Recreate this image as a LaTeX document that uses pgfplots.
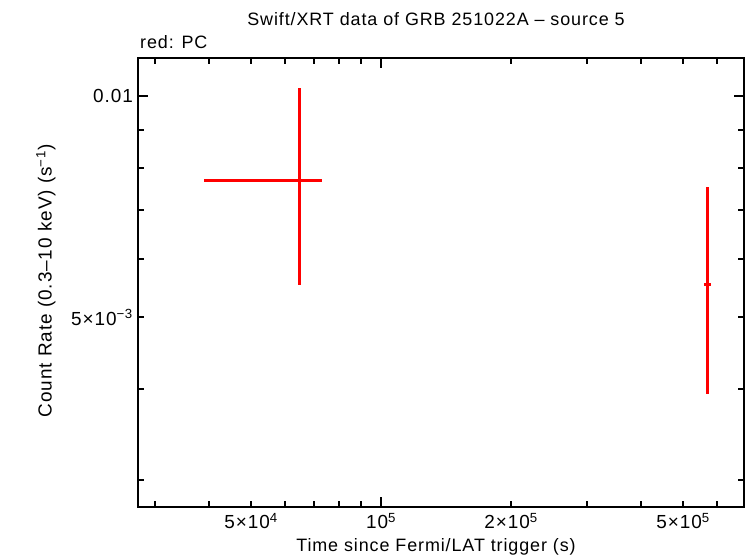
\documentclass[border=0pt]{standalone}
\usepackage{fontspec}
\setmainfont{Liberation Sans}[LetterSpace=5]
\usepackage{pgfplots}
\pgfplotsset{compat=1.18}
\begin{document}
\fontsize{18}{21}\selectfont
\begin{tikzpicture}[x=1bp,y=1bp]
\path[use as bounding box] (0,0) rectangle (746,558);
\begin{axis}[
  at={(138bp,51bp)}, anchor=south west,
  scale only axis, width=606bp, height=449bp,
  xmode=log, ymode=log,
  xmin=27380, xmax=692000,
  ymin=0.00276, ymax=0.01128,
  axis line style={line width=2.7bp},
  tick align=inside,
  every tick/.style={line width=2bp, black},
  major tick length=10bp, minor tick length=6bp,
  xtick={1e5}, xticklabels={10\textsuperscript{5}},
  minor xtick={3e4,4e4,6e4,7e4,8e4,9e4,3e5,4e5,6e5},
  extra x ticks={5e4,2e5,5e5},
  extra x tick labels={5×10\textsuperscript{4},2×10\textsuperscript{5},5×10\textsuperscript{5}},
  extra x tick style={major tick length=6bp},
  ytick={0.01}, yticklabels={0.01},
  minor ytick={0.003,0.004,0.006,0.007,0.008,0.009},
  extra y ticks={0.005},
  extra y tick labels={5×10\textsuperscript{−3}},
  extra y tick style={major tick length=6bp},
  xticklabel style={yshift=0bp},
  yticklabel style={xshift=1bp},
  tick label style={font=\fontsize{19}{22}\selectfont},
]
\addplot[draw=none, mark=none, red,
  error bars/.cd,
    x dir=both, x explicit,
    y dir=both, y explicit,
    error mark=none,
    error bar style={line width=2.8bp, red}]
  coordinates {
    (64700,0.007675) += (8200,0.002605) -= (25770,0.00214)
    (569000,0.005547) += (12000,0.00199) -= (9000,0.001613)
  };
\end{axis}
\node at (436,539) {Swift/XRT data of GRB 251022A – source 5};
\node[anchor=west] at (134,516) {red: PC};
\node at (436,11) {Time since Fermi/LAT trigger (s)};
\node[rotate=90, font=\fontsize{19}{22}\selectfont] at (46,277) {Count Rate (0.3–10 keV) (s\textsuperscript{−1})};
\end{tikzpicture}
\end{document}
